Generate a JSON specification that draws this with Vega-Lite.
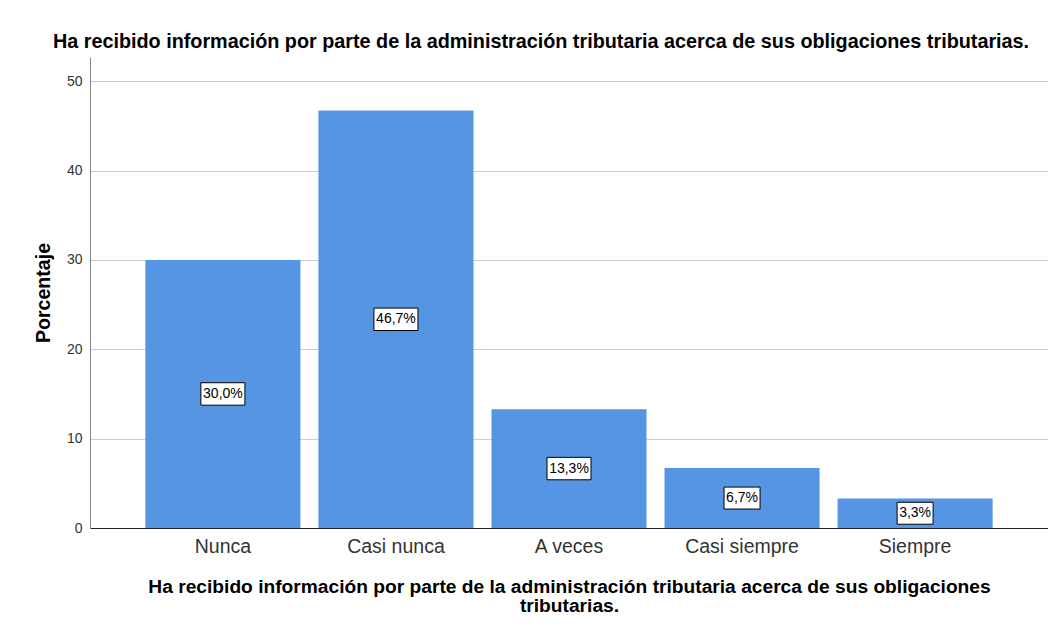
{
  "$schema": "https://vega.github.io/schema/vega-lite/v6.json",
  "width": 958,
  "height": 471,
  "autosize": {"type": "none"},
  "padding": {"left": 90, "top": 57, "right": 0, "bottom": 101},
  "background": "white",
  "title": {
    "text": "Ha recibido información por parte de la administración tributaria acerca de sus obligaciones tributarias.",
    "font": "Liberation Sans",
    "fontSize": 19.8,
    "fontWeight": "bold",
    "color": "#000000",
    "anchor": "middle",
    "dx": -28,
    "offset": 5
  },
  "data": {
    "values": [
      {"categoria": "Nunca", "porcentaje": 30.0, "etiqueta": "30,0%"},
      {"categoria": "Casi nunca", "porcentaje": 46.7, "etiqueta": "46,7%"},
      {"categoria": "A veces", "porcentaje": 13.3, "etiqueta": "13,3%"},
      {"categoria": "Casi siempre", "porcentaje": 6.7, "etiqueta": "6,7%"},
      {"categoria": "Siempre", "porcentaje": 3.3, "etiqueta": "3,3%"}
    ]
  },
  "transform": [{"calculate": "datum.porcentaje / 2", "as": "medio"}],
  "encoding": {
    "x": {
      "field": "categoria",
      "type": "nominal",
      "sort": null,
      "scale": {"paddingInner": 0.104, "paddingOuter": 0.32},
      "axis": {
        "title": ["Ha recibido información por parte de la administración tributaria acerca de sus obligaciones", "tributarias."],
        "titleFont": "Liberation Sans",
        "titleFontSize": 19.2,
        "titleFontWeight": "bold",
        "titleColor": "#000000",
        "titleLineHeight": 19,
        "titlePadding": 22,
        "labelFont": "Liberation Sans",
        "labelFontSize": 19.5,
        "labelColor": "#333333",
        "labelAngle": 0,
        "labelPadding": 9,
        "ticks": false,
        "domainColor": "#222222",
        "domainWidth": 1,
        "grid": false
      }
    }
  },
  "layer": [
    {
      "mark": {"type": "bar", "color": "#5694e4"},
      "encoding": {
        "y": {
          "field": "porcentaje",
          "type": "quantitative",
          "scale": {"domain": [0, 52.7], "nice": false},
          "axis": {
            "title": "Porcentaje",
            "titleFont": "Liberation Sans",
            "titleFontSize": 19.6,
            "titleFontWeight": "bold",
            "titleColor": "#000000",
            "titlePadding": 13,
            "values": [0, 10, 20, 30, 40, 50],
            "labelFont": "Liberation Sans",
            "labelFontSize": 14,
            "labelColor": "#333333",
            "labelPadding": 8,
            "ticks": false,
            "domainColor": "#888888",
            "gridColor": "#cccccc",
            "gridWidth": 1
          }
        }
      }
    },
    {
      "mark": {"type": "point", "filled": true, "fill": "white", "stroke": "black", "strokeWidth": 1, "opacity": 1},
      "encoding": {
        "y": {"field": "medio", "type": "quantitative"},
        "shape": {
          "condition": {"test": "datum.porcentaje < 10", "value": "M-1,-0.61L1,-0.61L1,0.61L-1,0.61Z"},
          "value": "M-1,-0.51L1,-0.51L1,0.51L-1,0.51Z"
        },
        "size": {
          "condition": {"test": "datum.porcentaje < 10", "value": 1296},
          "value": 1936
        }
      }
    },
    {
      "mark": {"type": "text", "font": "Liberation Sans", "fontSize": 14, "color": "#000000", "baseline": "middle", "align": "center"},
      "encoding": {
        "y": {"field": "medio", "type": "quantitative"},
        "text": {"field": "etiqueta"}
      }
    }
  ],
  "config": {
    "view": {"stroke": null}
  }
}
